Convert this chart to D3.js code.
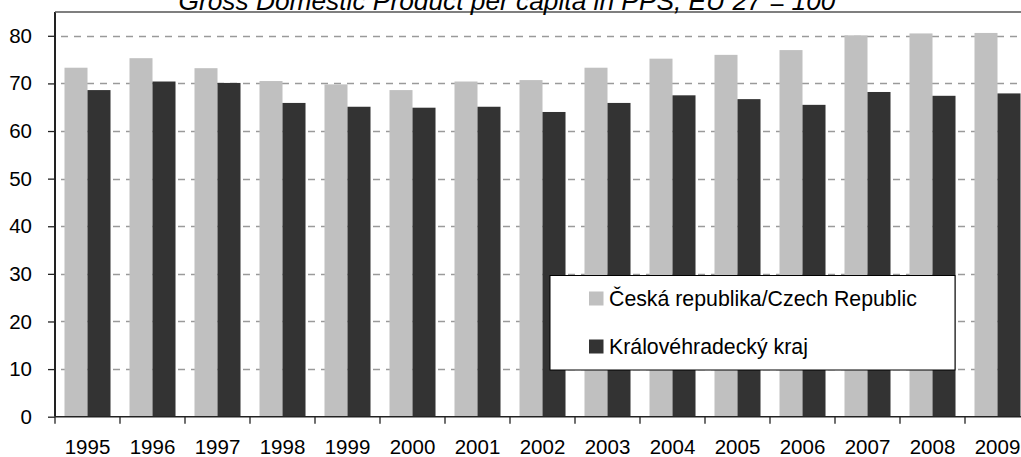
<!DOCTYPE html>
<html lang="cs">
<head>
    <meta charset="UTF-8">
    <title>HDP na obyvatele v PPS</title>
    <script src="https://d3js.org/d3.v7.min.js"></script>
    <style>
        body {
            margin: 0;
            background-color: #fff;
            font-family: "Liberation Sans", Arial, sans-serif;
        }
        .tick-label {
            font-size: 20.5px;
            fill: #000;
        }
        .grid line {
            stroke: #9a9a9a;
            stroke-width: 1.3px;
            stroke-dasharray: 7 6;
        }
        .legend-text {
            font-size: 21.3px;
            fill: #000;
        }
    </style>
</head>
<body>
    <div id="chart"></div>

    <script>
        // Data
        const years = ['1995', '1996', '1997', '1998', '1999', '2000', '2001', '2002',
                       '2003', '2004', '2005', '2006', '2007', '2008', '2009'];
        const seriesNames = ['Česká republika/Czech Republic', 'Královéhradecký kraj'];
        const czValues = [73.3, 75.3, 73.2, 70.5, 69.8, 68.6, 70.4, 70.7,
                          73.3, 75.2, 76.0, 77.0, 80.1, 80.5, 80.6];
        const hkValues = [68.6, 70.4, 70.1, 65.9, 65.1, 64.9, 65.1, 64.0,
                          65.9, 67.5, 66.7, 65.5, 68.2, 67.4, 67.9];
        const yTicks = [0, 10, 20, 30, 40, 50, 60, 70, 80];
        const colors = ['#c0c0c0', '#333333'];
        const title = 'Gross Domestic Product per capita in PPS, EU 27 = 100';

        const data = years.map((y, i) => ({ year: y, values: [czValues[i], hkValues[i]] }));

        // Dimensions (plot runs past the right edge like the original)
        const W = 1021, H = 457;
        const margin = { top: 12, left: 55 };
        const plotRight = 1030;
        const plotBottom = 416.7;

        const svg = d3.select('#chart')
            .append('svg')
            .attr('width', W)
            .attr('height', H);

        const x0 = d3.scaleBand()
            .domain(years)
            .range([margin.left, plotRight])
            .paddingInner(0.292)
            .paddingOuter(0.146);
        const x1 = d3.scaleBand()
            .domain([0, 1])
            .range([0, x0.bandwidth()]);
        const y = d3.scaleLinear()
            .domain([0, 85])
            .range([plotBottom, margin.top]);

        // Gridlines
        svg.append('g')
            .attr('class', 'grid')
            .selectAll('line')
            .data(yTicks.filter(d => d > 0))
            .enter().append('line')
            .attr('x1', margin.left + 6)
            .attr('x2', plotRight)
            .attr('y1', d => Math.round(y(d)) + 0.5)
            .attr('y2', d => Math.round(y(d)) + 0.5);

        // Bars
        const groups = svg.selectAll('.group')
            .data(data)
            .enter().append('g')
            .attr('class', 'group')
            .attr('transform', d => `translate(${x0(d.year)},0)`);

        groups.selectAll('rect')
            .data(d => d.values.map((v, i) => ({ i, v })))
            .enter().append('rect')
            .attr('x', d => x1(d.i))
            .attr('y', d => y(d.v))
            .attr('width', x1.bandwidth())
            .attr('height', d => plotBottom - y(d.v))
            .attr('fill', d => colors[d.i]);

        // Y axis
        const yAxis = svg.append('g')
            .attr('transform', `translate(${margin.left},0)`)
            .call(d3.axisLeft(y).tickValues(yTicks).tickSize(7).tickPadding(16).tickSizeOuter(0));
        yAxis.select('.domain').remove();
        yAxis.attr('font-family', null).attr('font-size', null);
        yAxis.selectAll('.tick line').attr('stroke', '#222').attr('stroke-width', 1.3);
        yAxis.selectAll('.tick text').attr('class', 'tick-label');

        svg.append('line')
            .attr('x1', margin.left)
            .attr('x2', margin.left)
            .attr('y1', margin.top)
            .attr('y2', plotBottom)
            .attr('stroke', '#222')
            .attr('stroke-width', 2);

        // X axis: labels centred in each band, ticks between bands
        const xAxis = svg.append('g')
            .attr('transform', `translate(0,${plotBottom})`)
            .call(d3.axisBottom(x0).tickSize(0).tickPadding(23).tickSizeOuter(0));
        xAxis.select('.domain').remove();
        xAxis.attr('font-family', null).attr('font-size', null);
        xAxis.selectAll('.tick text').attr('class', 'tick-label');

        svg.append('g')
            .selectAll('line')
            .data(years)
            .enter().append('line')
            .attr('x1', d => x0(d) - x0.step() * x0.paddingOuter())
            .attr('x2', d => x0(d) - x0.step() * x0.paddingOuter())
            .attr('y1', plotBottom)
            .attr('y2', plotBottom + 7)
            .attr('stroke', '#222')
            .attr('stroke-width', 1.3);

        svg.append('line')
            .attr('x1', margin.left)
            .attr('x2', plotRight)
            .attr('y1', plotBottom)
            .attr('y2', plotBottom)
            .attr('stroke', '#222')
            .attr('stroke-width', 1.5);

        // Top border of plot area
        svg.append('line')
            .attr('x1', margin.left)
            .attr('x2', plotRight)
            .attr('y1', margin.top)
            .attr('y2', margin.top)
            .attr('stroke', '#555')
            .attr('stroke-width', 1.5);

        // Legend
        const legend = svg.append('g')
            .attr('transform', 'translate(550,275.5)');
        legend.append('rect')
            .attr('width', 405)
            .attr('height', 94.5)
            .attr('fill', '#fff')
            .attr('stroke', '#000')
            .attr('stroke-width', 1);
        const items = legend.selectAll('.item')
            .data(seriesNames)
            .enter().append('g')
            .attr('class', 'item')
            .attr('transform', (d, i) => `translate(39,${16 + i * 48})`);
        items.append('rect')
            .attr('width', 14.5)
            .attr('height', 14)
            .attr('fill', (d, i) => colors[i]);
        items.append('text')
            .attr('class', 'legend-text')
            .attr('x', 20)
            .attr('y', 7)
            .attr('dy', '0.35em')
            .text(d => d);

        // Title (partly cut off at the top, as in the original)
        svg.append('text')
            .attr('x', 507)
            .attr('y', 10)
            .attr('text-anchor', 'middle')
            .style('font-size', '26.3px')
            .style('font-style', 'italic')
            .text(title);
    </script>
</body>
</html>
